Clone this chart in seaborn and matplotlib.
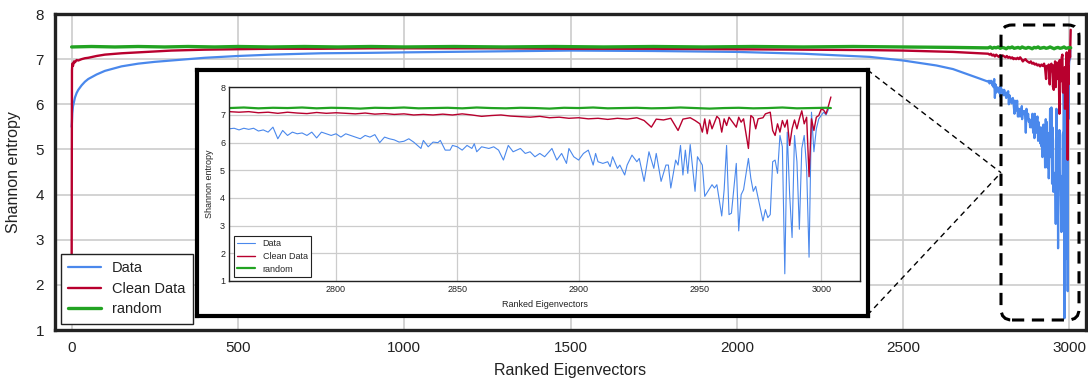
import numpy as np
import pandas as pd
import seaborn as sns
import matplotlib
import matplotlib.pyplot as plt
from matplotlib.patches import FancyBboxPatch
from matplotlib.lines import Line2D
from matplotlib.transforms import IdentityTransform

# coarse readings of the full curves, 0 .. 2730
main_x = [0, 1, 2, 4, 7, 10, 15, 20, 30, 40, 50, 75, 100, 150, 200, 250, 300, 400, 500,
          600, 750, 900, 1000, 1250, 1500, 1750, 2000, 2200, 2400, 2500, 2600, 2650, 2700, 2730]
main_data = [5.5, 5.6, 5.8, 5.95, 6.05, 6.15, 6.25, 6.32, 6.42, 6.5, 6.56, 6.66, 6.74, 6.84, 6.9,
             6.94, 6.97, 7.03, 7.07, 7.1, 7.13, 7.14, 7.15, 7.17, 7.19, 7.18, 7.16, 7.12, 7.05,
             6.97, 6.86, 6.78, 6.65, 6.57]
main_clean = [2.4, 6.75, 6.9, 6.85, 6.95, 6.93, 6.98, 6.97, 7.0, 7.02, 7.03, 7.07, 7.1, 7.13, 7.15,
              7.17, 7.19, 7.21, 7.22, 7.23, 7.23, 7.24, 7.24, 7.24, 7.23, 7.23, 7.22, 7.21, 7.2,
              7.19, 7.17, 7.16, 7.14, 7.13]
main_rand_x = [0, 60, 130, 200, 280, 350, 430, 500, 600, 700, 800, 900, 1000, 1150, 1300, 1450,
               1600, 1750, 1900, 2050, 2200, 2350, 2500, 2650, 2750]
main_rand = [7.27, 7.28, 7.27, 7.28, 7.27, 7.28, 7.27, 7.28, 7.27, 7.28, 7.27, 7.28, 7.27, 7.28,
             7.27, 7.28, 7.27, 7.28, 7.27, 7.28, 7.27, 7.28, 7.27, 7.26, 7.25]

# detailed readings of the tail (inset range)
tail_data_x = [2756, 2758, 2760, 2762, 2764, 2766, 2768, 2770, 2772, 2774, 2776, 2778, 2780, 2782,
               2784, 2786, 2788, 2790, 2792, 2794, 2796, 2798, 2800, 2802, 2804, 2806, 2808, 2810,
               2812, 2814, 2816, 2818, 2820, 2822, 2824, 2826, 2828, 2830, 2832,
               2835, 2836, 2838, 2840, 2842, 2843, 2845, 2847, 2848, 2850, 2852, 2854, 2856, 2857,
               2858, 2860, 2863, 2865, 2867, 2869, 2871, 2873, 2876, 2878, 2880, 2882, 2884, 2886,
               2889, 2891, 2893, 2895, 2896, 2898, 2900, 2902, 2904, 2906, 2907, 2908, 2910,
               2912, 2913, 2914, 2916, 2917, 2919, 2920, 2922, 2924, 2925, 2927, 2929, 2931, 2932,
               2934, 2936, 2937, 2938, 2940, 2941, 2942, 2943, 2944, 2945, 2946, 2948, 2949, 2951,
               2952, 2955, 2956, 2957, 2959, 2960, 2961,
               2962, 2963, 2965, 2966, 2967, 2968, 2970, 2971, 2972, 2973, 2974, 2976, 2977, 2978,
               2979, 2980, 2981, 2982, 2983, 2984, 2985, 2986, 2987, 2988, 2989, 2990, 2991, 2992,
               2993, 2994, 2995, 2996, 2997, 2998, 2999, 3000, 3001, 3002, 3003]
tail_data = [6.5, 6.52, 6.46, 6.52, 6.48, 6.52, 6.42, 6.46, 6.38, 6.56, 6.14, 6.44, 6.26, 6.38,
             6.32, 6.35, 6.26, 6.38, 6.17, 6.38, 6.32, 6.26, 6.32, 6.2, 6.32, 6.26, 6.2, 6.14,
             6.26, 6.2, 6.29, 6.0, 6.2, 6.14, 6.1, 6.02, 6.05, 6.14, 6.02,
             5.79, 6.08, 5.85, 6.02, 6.0, 6.08, 5.73, 5.73, 5.9, 5.85, 5.73, 5.9, 5.79, 5.96,
             5.67, 5.85, 5.79, 5.85, 5.73, 5.37, 5.9, 5.67, 5.79, 5.61, 5.67, 5.49, 5.61, 5.49,
             5.79, 5.37, 5.61, 5.25, 5.79, 5.49, 5.37, 5.61, 5.73, 5.19, 5.61, 5.31, 5.25,
             5.31, 5.13, 5.49, 5.07, 5.19, 4.83, 5.19, 5.55, 5.31, 5.43, 4.6, 5.67, 5.07, 5.61,
             4.6, 5.19, 5.19, 4.36, 5.37, 5.19, 5.9, 4.83, 5.73, 4.89, 5.93, 4.24, 5.49, 5.19,
             4.06, 4.48, 4.36, 4.48, 3.35, 4.3, 5.9,
             3.4, 3.45, 5.25, 2.81, 4.12, 4.3, 5.43, 4.71, 4.24, 4.42, 4.0, 3.17, 3.58, 3.29,
             3.4, 5.31, 5.37, 4.89, 6.26, 5.85, 1.26, 6.38, 4.12, 2.57, 6.26, 5.31, 2.87, 5.79,
             6.26, 5.07, 1.86, 7.1, 5.67, 6.5, 6.86, 6.98, 7.1, 7.0, 7.2]
tail_clean_x = [2756, 2760, 2764, 2768, 2772, 2776, 2780, 2784, 2788, 2792, 2796, 2800, 2804, 2808,
                2812, 2816, 2820, 2824, 2828, 2832, 2836, 2840, 2844, 2848, 2852, 2856, 2860, 2864,
                2868, 2872, 2876, 2880, 2884, 2888, 2892, 2896, 2900, 2904, 2908, 2912, 2916, 2920,
                2924, 2927, 2930, 2932, 2935, 2938, 2941, 2943, 2946, 2948, 2950, 2951, 2952, 2953,
                2954, 2955, 2957, 2958, 2959, 2960, 2961, 2962, 2963, 2965, 2966, 2967, 2968, 2970,
                2971, 2972, 2973, 2974, 2976, 2977, 2979, 2980, 2981, 2982, 2983, 2984, 2985, 2986,
                2987, 2988, 2989, 2990, 2991, 2992, 2993, 2994, 2995, 2996, 2997, 2998, 2999, 3000,
                3001, 3002, 3003, 3004]
tail_clean = [7.12, 7.1, 7.12, 7.08, 7.1, 7.06, 7.1, 7.07, 7.05, 7.09, 7.06, 7.08, 7.06, 7.04,
              7.07, 7.03, 7.05, 7.02, 7.04, 7.0, 7.02, 7.0, 7.03, 7.0, 7.04, 7.0, 6.95, 6.98,
              7.0, 6.96, 6.94, 6.92, 6.95, 6.9, 6.92, 6.88, 6.9, 6.86, 6.88, 6.84, 6.88, 6.85,
              6.9, 6.8, 6.56, 6.85, 6.82, 6.88, 6.44, 6.85, 6.9, 6.8, 6.68, 6.38, 6.86, 6.32,
              6.82, 6.5, 6.95, 6.86, 6.38, 6.86, 6.62, 6.92, 6.8, 6.56, 6.92, 6.74, 6.86, 5.79,
              6.98, 6.9, 6.5, 6.86, 6.9, 7.04, 7.1, 6.44, 6.26, 6.68, 6.38, 6.8, 6.56, 6.82,
              5.9, 6.5, 6.82, 6.5, 6.86, 7.15, 6.68, 6.92, 4.77, 6.86, 6.44, 6.92, 6.98, 7.21,
              7.18, 7.04, 7.33, 7.65]
tail_rand_x = [2756, 2762, 2768, 2774, 2780, 2786, 2792, 2798, 2804, 2810, 2816, 2822, 2828, 2834,
               2840, 2846, 2852, 2858, 2864, 2870, 2876, 2882, 2888, 2894, 2900, 2906, 2912, 2918,
               2924, 2930, 2936, 2942, 2948, 2954, 2960, 2966, 2972, 2978, 2984, 2990, 2996, 3002,
               3004]
tail_rand = [7.25, 7.27, 7.24, 7.26, 7.25, 7.27, 7.24, 7.26, 7.25, 7.23, 7.26, 7.25, 7.27, 7.24,
             7.25, 7.26, 7.24, 7.27, 7.25, 7.24, 7.26, 7.25, 7.23, 7.26, 7.25, 7.27, 7.24, 7.25,
             7.26, 7.24, 7.25, 7.27, 7.25, 7.23, 7.25, 7.26, 7.24, 7.25, 7.27, 7.24, 7.25, 7.26,
             7.25]

names = ['Data', 'Clean Data', 'random']
colors = {'Data': '#4a88ec', 'Clean Data': '#b8002e', 'random': '#22a322'}

full = pd.DataFrame({
    'Data': pd.Series(main_data + tail_data, index=main_x + tail_data_x),
    'Clean Data': pd.Series(main_clean + tail_clean, index=main_x + tail_clean_x),
    'random': pd.Series(main_rand + tail_rand, index=main_rand_x + tail_rand_x),
})
tail = pd.DataFrame({
    'Data': pd.Series(tail_data, index=tail_data_x),
    'Clean Data': pd.Series(tail_clean, index=tail_clean_x),
    'random': pd.Series(tail_rand, index=tail_rand_x),
})

sns.set_style('whitegrid', {'grid.color': '#cccccc'})
plt.rcParams['font.family'] = ['Liberation Sans', 'DejaVu Sans']
txt = '#222222'

W, H = 1088, 383
def fb(x0, y0, x1, y1):
    return [x0 / W, 1 - y1 / H, (x1 - x0) / W, (y1 - y0) / H]

fig = plt.figure(figsize=(W / 100, H / 100), dpi=100)

# main axes
ax = fig.add_axes(fb(55, 14, 1086, 330))
main_lw = {'Data': 1.6, 'Clean Data': 1.7, 'random': 2.4}
for n in names:
    s = full[n].dropna()
    sns.lineplot(x=s.index, y=s.values, ax=ax, color=colors[n], lw=main_lw[n], label=n)
ax.set_xlim(-50, 3050)
ax.set_ylim(1, 8)
ax.set_xticks(range(0, 3001, 500))
ax.set_yticks(range(1, 9))
ax.grid(True, color='#cccccc', lw=1.2)
for sp in ax.spines.values():
    sp.set_color('#222222')
    sp.set_linewidth(2.4)
ax.tick_params(labelsize=11, colors=txt, pad=8, length=0)
ax.set_xlabel('Ranked Eigenvectors', fontsize=11.5, color=txt, labelpad=6)
ax.set_ylabel('Shannon entropy', fontsize=11.5, color=txt, labelpad=10)
leg = ax.legend(loc='lower left', bbox_to_anchor=(0.006, 0.02), borderaxespad=0,
                fontsize=10.5, fancybox=False, framealpha=1, edgecolor='#222222',
                handlelength=2.2, labelspacing=0.45, borderpad=0.5)
leg.get_frame().set_linewidth(1.0)
for t in leg.get_texts():
    t.set_color(txt)

# white framed box holding the zoomed view
box = fig.add_axes(fb(196.5, 70, 867.5, 315.5), zorder=5)
box.set_facecolor('white')
box.set_xticks([])
box.set_yticks([])
box.grid(False)
for sp in box.spines.values():
    sp.set_color('black')
    sp.set_linewidth(3)

ins = fig.add_axes(fb(229.3, 87.3, 860, 281), zorder=6)
ins_lw = {'Data': 0.8, 'Clean Data': 1.0, 'random': 1.6}
for n in names:
    s = tail[n].dropna()
    sns.lineplot(x=s.index, y=s.values, ax=ins, color=colors[n], lw=ins_lw[n], label=n)
ins.set_xlim(2756, 3016)
ins.set_ylim(1, 8)
ins.set_xticks(range(2800, 3001, 50))
ins.set_yticks(range(1, 9))
ins.grid(True, color='#cccccc', lw=0.9)
for sp in ins.spines.values():
    sp.set_color('#222222')
    sp.set_linewidth(1.0)
ins.tick_params(labelsize=6.5, colors=txt, pad=3, length=0)
ins.set_xlabel('Ranked Eigenvectors', fontsize=6.5, color=txt, labelpad=4)
ins.set_ylabel('Shannon entropy', fontsize=6.5, color=txt, labelpad=4)
leg2 = ins.legend(loc='lower left', bbox_to_anchor=(0.007, 0.02), borderaxespad=0,
                  fontsize=6.5, fancybox=False, framealpha=1, edgecolor='#222222',
                  handlelength=2.0, labelspacing=0.4)
leg2.get_frame().set_linewidth(0.8)

# zoom markers: dashed rounded box + connecting lines (pixel coords)
ident = IdentityTransform()
rect = FancyBboxPatch((1001, H - 320), 78, 295, boxstyle='round,pad=0,rounding_size=11',
                      fill=False, ec='black', lw=2.2, ls=(0, (4, 2.5)),
                      transform=ident, zorder=7)
fig.add_artist(rect)
for y0 in (70, 315):
    fig.add_artist(Line2D([867.5, 1001], [H - y0, H - 172.7], color='black', lw=1.0,
                          ls=(0, (4, 3)), transform=ident, zorder=7))

fig.savefig('out.png', dpi=100)
